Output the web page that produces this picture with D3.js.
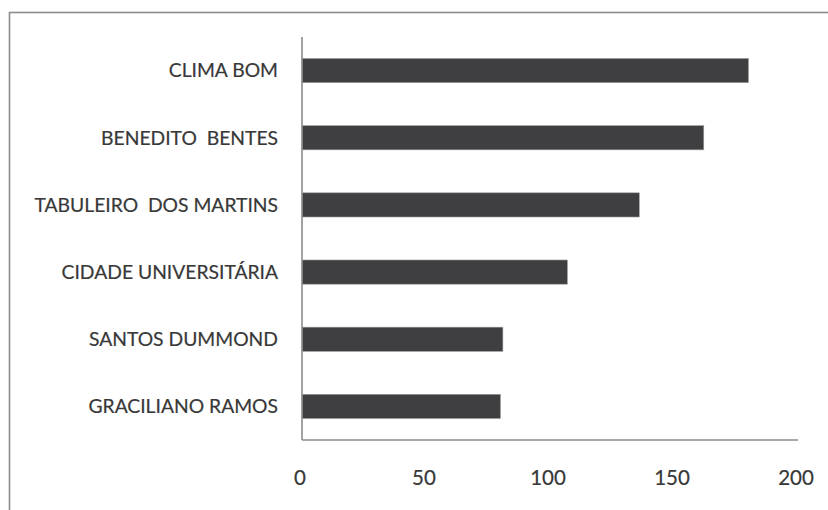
<!DOCTYPE html>
<html>
<head>
<meta charset="utf-8">
<script src="https://cdn.jsdelivr.net/npm/d3@7"></script>
<style>
  html, body { margin: 0; padding: 0; background: #fff; }
  svg { display: block; }
  .cat-label, .tick-label {
    font-family: Lato, "Open Sans", sans-serif;
    fill: #383838;
    stroke: #383838;
    stroke-width: 0.2px;
    white-space: pre;
  }
</style>
</head>
<body>
<div id="chart"></div>
<script>
(function () {
  'use strict';

  /* data, top to bottom as drawn */
  var bairros = ['CLIMA BOM', 'BENEDITO  BENTES', 'TABULEIRO  DOS MARTINS',
                 'CIDADE UNIVERSITÁRIA', 'SANTOS DUMMOND', 'GRACILIANO RAMOS'];
  var valores = [180, 162, 136, 107, 81, 80];
  var xTicks  = [0, 50, 100, 150, 200];

  var W = 828, H = 510;
  var plot = { left: 302, right: 798, top: 37, bottom: 440 };

  var svg = d3.select('#chart').append('svg')
    .attr('width', W).attr('height', H);

  /* outer frame — runs off the right and bottom edge of the picture */
  svg.append('rect')
    .attr('x', 9.5).attr('y', 12.5)
    .attr('width', W + 20).attr('height', H + 20)
    .attr('fill', 'none')
    .attr('stroke', '#8c8c8c')
    .attr('stroke-width', 1.6);

  var x = d3.scaleLinear().domain([0, 200]).range([plot.left, plot.right]);
  var y = d3.scaleBand().domain(bairros).range([plot.top, plot.bottom]).paddingInner(0.64).paddingOuter(0.32);

  /* bars */
  svg.selectAll('.bar')
    .data(bairros)
    .join('rect')
    .attr('class', 'bar')
    .attr('x', x(0))
    .attr('y', function (d) { return y(d); })
    .attr('width', function (d, i) { return x(valores[i]) - x(0); })
    .attr('height', y.bandwidth())
    .attr('fill', '#3f3f41')
    .attr('stroke', '#9a9a9a')
    .attr('stroke-width', 0.6);

  /* category labels */
  svg.selectAll('.cat-label')
    .data(bairros)
    .join('text')
    .attr('class', 'cat-label')
    .attr('x', plot.left - 24)
    .attr('y', function (d) { return y(d) + y.bandwidth() / 2; })
    .attr('dy', '0.35em')
    .attr('text-anchor', 'end')
    .attr('font-size', 19.3)
    .text(function (d) { return d; });

  /* axis lines */
  svg.append('line')
    .attr('x1', plot.left).attr('x2', plot.left)
    .attr('y1', plot.top).attr('y2', plot.bottom)
    .attr('stroke', '#8c8c8c').attr('stroke-width', 1.6);
  svg.append('line')
    .attr('x1', plot.left).attr('x2', plot.right)
    .attr('y1', plot.bottom).attr('y2', plot.bottom)
    .attr('stroke', '#8c8c8c').attr('stroke-width', 1.6);

  /* x tick labels */
  svg.selectAll('.tick-label')
    .data(xTicks)
    .join('text')
    .attr('class', 'tick-label')
    .attr('x', function (d) { return x(d) - 2; })
    .attr('y', 478)
    .attr('dy', '0.35em')
    .attr('text-anchor', 'middle')
    .attr('font-size', 20.5)
    .text(function (d) { return d; });
})();
</script>
</body>
</html>
